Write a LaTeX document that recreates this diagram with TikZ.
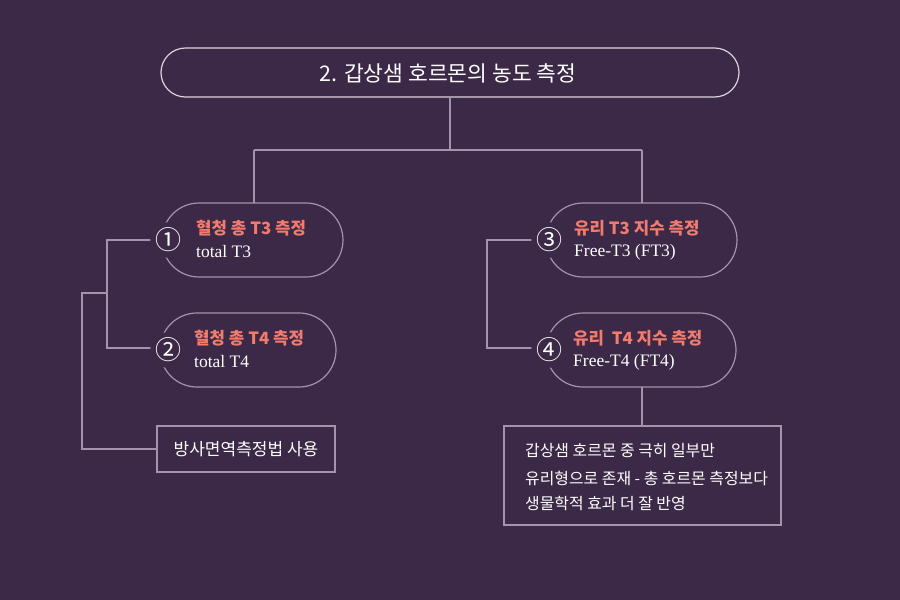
\documentclass[tikz,border=0pt]{standalone}
\usepackage{fontspec}
\setmainfont{Liberation Serif}
\newfontfamily\kr{Noto Sans CJK KR}
\usetikzlibrary{positioning}
\definecolor{bg}{HTML}{3C2947}
\definecolor{ln}{HTML}{A393AC}
\definecolor{tl}{HTML}{DCD3E0}
\definecolor{sal}{HTML}{F37B6C}
\tikzset{
  conn/.style={draw=ln, line width=1.2pt},
  pill/.style={draw=ln, line width=1.2pt, rounded corners=37pt},
  numc/.style={circle, fill=bg, inner sep=0pt, text=white, font=\kr\fontsize{26}{26}\selectfont},
  ktitle/.style={anchor=west, text=sal, font=\kr\bfseries\fontsize{16.8}{16.8}\selectfont, inner sep=0pt},
  etext/.style={anchor=west, text=white, font=\fontsize{17.5}{17.5}\selectfont, inner sep=0pt},
  infobox/.style={draw=ln, line width=1.2pt, fill=bg},
  boxtext/.style={anchor=west, text=white, inner sep=0pt, font=\kr\fontsize{15.9}{15.9}\selectfont},
}
\begin{document}
\begin{tikzpicture}[x=1pt,y=-1pt]
\fill[bg] (0,0) rectangle (900,600);
\useasboundingbox (0,0) rectangle (900,600);
% title
\draw[draw=tl, line width=1.2pt, rounded corners=24.5pt] (161,48) rectangle (739,97);
\node[text=white, font=\kr\fontsize{21.5}{21.5}\selectfont] (title) at (448,73) {2. 갑상샘 호르몬의 농도 측정};
% top connectors
\coordinate (tb) at (450,97);
\coordinate (split) at (450,150);
\draw[conn] (tb) -- (split) (254,150) -- (642,150);
\draw[conn] (254,150) -- (254,203);
\draw[conn] (642,150) -- (642,203);
% pills
\draw[pill] (162,203) rectangle (343,277);
\draw[pill] (160,313) rectangle (336,387);
\draw[pill] (546,203) rectangle (737,277);
\draw[pill] (546,313) rectangle (736,387);
% left connectors
\draw[conn] (160,240) -- (107,240) -- (107,348) -- (160,348);
\draw[conn] (107,293) -- (82,293) -- (82,449) -- (157,449);
% right connectors
\draw[conn] (540,240) -- (487,240) -- (487,348) -- (540,348);
\draw[conn] (642,387) -- (642,426);
% numbers
\node[numc] (n1) at (168,240) {①};
\node[numc] (n2) at (168,350) {②};
\node[numc] (n3) at (549,240) {③};
\node[numc] (n4) at (549,350) {④};
% pill texts
\node[ktitle] (t1) at (196,228) {혈청 총 T3 측정};
\node[etext] (e1) at (196,252) {total T3};
\node[ktitle] (t2) at (194,338) {혈청 총 T4 측정};
\node[etext] (e2) at (194,362) {total T4};
\node[ktitle] (t3) at (574,228) {유리 T3 지수 측정};
\node[etext] (e3) at (574,252) {Free-T3 (FT3)};
\node[ktitle] (t4) at (573,338) {유리\ \ T4 지수 측정};
\node[etext] (e4) at (573,362) {Free-T4 (FT4)};
% boxes
\draw[infobox] (157,426) rectangle (335,472);
\node[text=white, font=\kr\fontsize{17}{17}\selectfont] (b1) at (246,449) {방사면역측정법 사용};
\draw[infobox] (504,426) rectangle (781,525);
\node[boxtext] (l1) at (525,451) {갑상샘 호르몬 중 극히 일부만};
\node[boxtext] (l2) at (525,478) {유리형으로 존재 - 총 호르몬 측정보다};
\node[boxtext] (l3) at (525,504) {생물학적 효과 더 잘 반영};
\end{tikzpicture}
\end{document}
